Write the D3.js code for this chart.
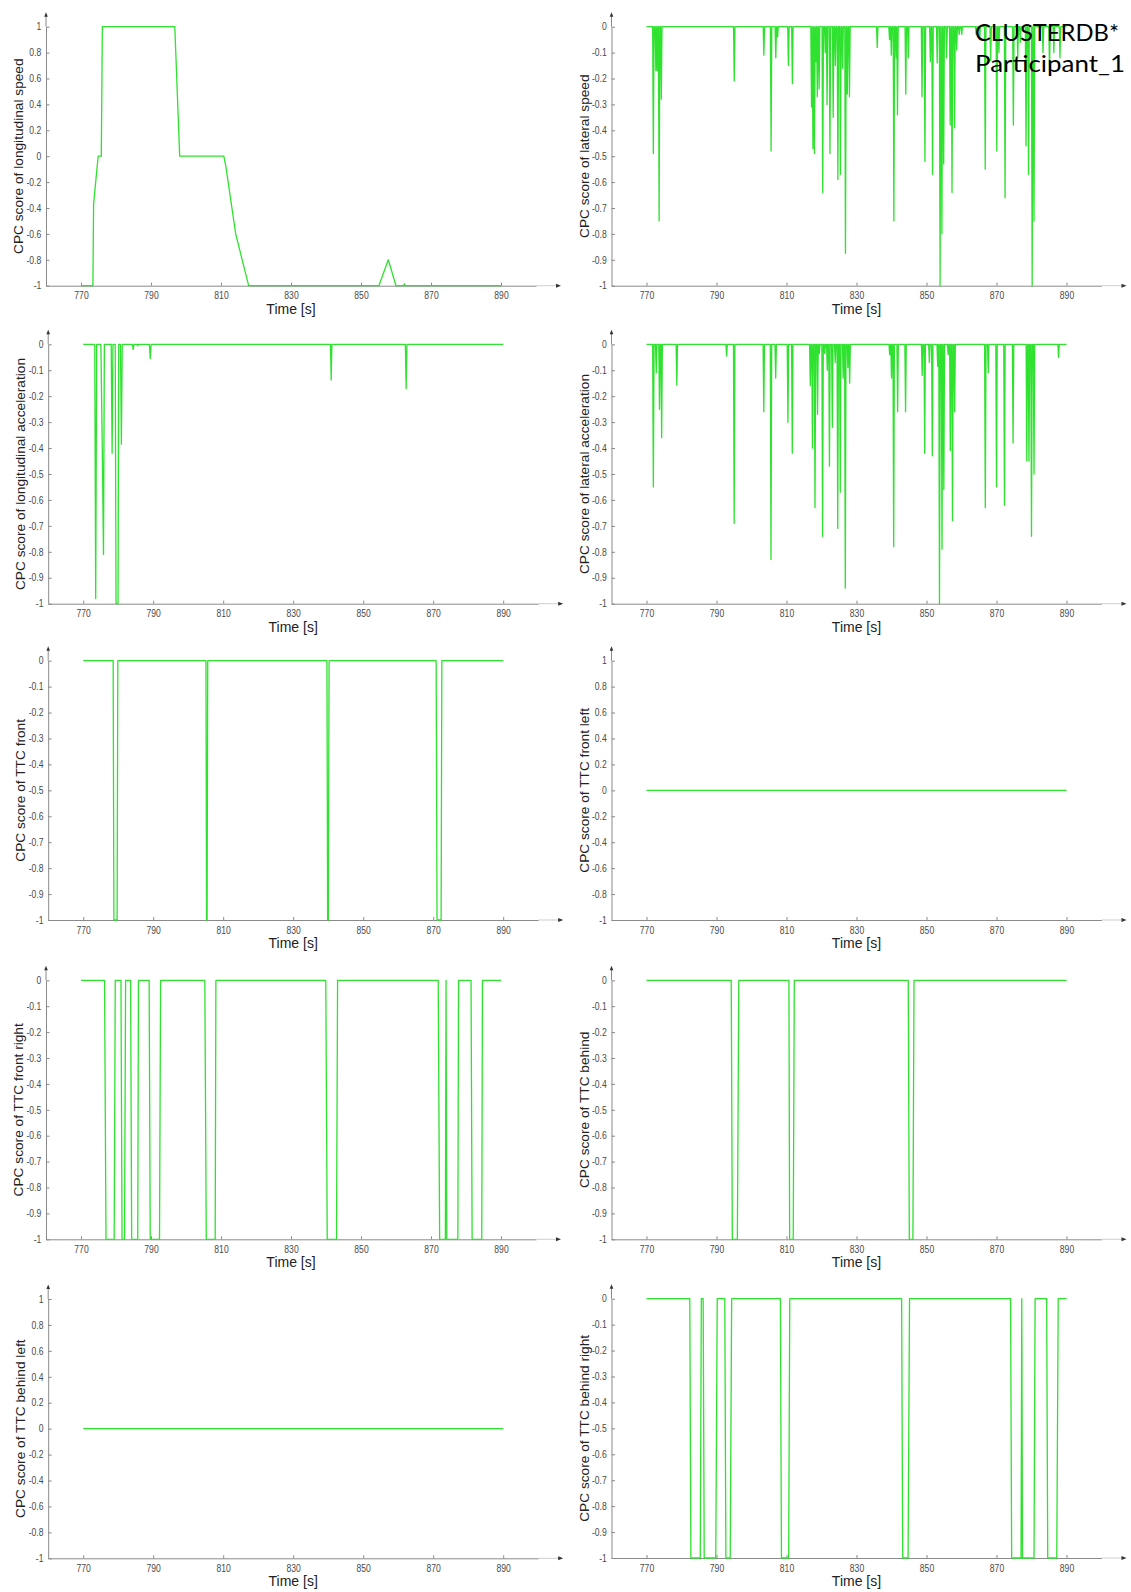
<!DOCTYPE html>
<html><head><meta charset="utf-8">
<script src="https://cdn.jsdelivr.net/npm/d3@7"></script>
<style>body{margin:0;background:#fff}svg{display:block}</style>
</head><body>
<svg id="c" width="1131" height="1592"></svg>
<script>
// ---------- tick labels ----------
const xTicks = [770, 790, 810, 830, 850, 870, 890];
const xDomain = [760, 900];
const yTicksFull = [-1, -0.8, -0.6, -0.4, -0.2, 0, 0.2, 0.4, 0.6, 0.8, 1];
const yTicksNeg = [-1, -0.9, -0.8, -0.7, -0.6, -0.5, -0.4, -0.3, -0.2, -0.1, 0];

// ---------- data ----------
const lonSpeedT = [770, 773.4, 773.6, 774.9, 775.8, 776.1, 796.8, 798.2, 810.8, 811.4, 814.2, 817.9, 855.1, 857.8, 860.0, 862.2, 862.4, 862.6, 890];
const lonSpeedV = [-1, -1, -0.37, 0, 0, 1, 1, 0, 0, -0.08, -0.6, -1, -1, -0.8, -1, -1, -0.985, -1, -1];

// lateral speed: spike times and depths (baseline 0)
const latSpeedSpikeT = [771.96, 772.68, 773.10, 773.61, 774.23, 795.07, 803.53, 805.60, 806.94, 807.45, 810.55, 811.68,
  817.15, 817.56, 817.98, 818.39, 818.80, 819.32, 820.35, 821.07, 821.59, 822.41, 823.34, 823.96, 824.68, 825.41, 826.03,
  826.85, 827.37, 827.99, 835.93, 839.44, 839.95, 840.68, 841.29, 841.71, 844.08, 844.80, 848.72, 849.55, 851.10, 851.72,
  853.06, 853.88, 854.40, 854.91, 855.74, 856.77, 857.29, 858.01, 858.63, 859.35, 860.07, 864.2, 865.2, 866.78, 868.33,
  870.08, 870.70, 872.45, 874.82, 876.07, 876.79, 878.44, 879.16, 880.19, 880.71, 883.29, 885.15, 886.38, 888.14];
const latSpeedSpikeV = [-0.49, -0.17, -0.17, -0.75, -0.28, -0.21, -0.11, -0.48, -0.12, -0.04, -0.15, -0.22,
  -0.31, -0.47, -0.49, -0.135, -0.27, -0.24, -0.64, -0.10, -0.30, -0.49, -0.35, -0.15, -0.59, -0.57, -0.16,
  -0.875, -0.26, -0.27, -0.08, -0.05, -0.11, -0.75, -0.12, -0.34, -0.26, -0.12, -0.27, -0.52, -0.135, -0.57,
  -0.14, -1, -0.80, -0.53, -0.12, -0.38, -0.64, -0.39, -0.09, -0.03, -0.03, -0.03, -0.05, -0.55, -0.13,
  -0.48, -0.10, -0.66, -0.38, -0.12, -0.06, -0.46, -0.57, -1, -0.75, -0.10, -0.17, -0.10, -0.12];

const lonAccT = [770, 773.3, 773.57, 773.85, 775.05, 775.5, 775.8, 776.05, 778.0, 778.26, 778.5, 779.15, 779.38, 779.95, 780.15, 780.65, 780.91, 781.15, 784.05, 784.27, 784.5, 785.4, 785.6, 785.8, 788.9, 789.17, 789.4, 840.65, 840.86, 841.05, 862.05, 862.27, 862.5, 890];
const lonAccV = [0, 0, -0.98, 0, 0, -0.45, -0.81, 0, 0, -0.42, 0, 0, -1, -1, 0, 0, -0.385, 0, 0, -0.02, 0, 0, -0.006, 0, 0, -0.055, 0, 0, -0.138, 0, 0, -0.17, 0, 0];

// lateral acceleration: spike times and depths (baseline 0)
const latAccSpikeT = [771.96, 772.78, 773.71, 774.33, 778.66, 792.89, 795.05, 803.51, 805.57, 806.91, 810.41, 811.65,
  816.80, 817.42, 818.14, 818.87, 819.38, 820.31, 820.93, 821.65, 822.27, 823.09, 823.92, 824.64, 825.36, 826.19,
  826.80, 827.53, 828.04, 839.48, 840.0, 840.62, 841.75, 844.02, 848.76, 849.48, 850.82, 851.65, 853.20, 853.71,
  854.43, 854.95, 856.19, 856.80, 857.42, 858.04, 866.80, 867.63, 870.0, 872.27, 874.74, 878.66, 879.28, 880.0,
  880.72, 887.73];
const latAccSpikeV = [-0.55, -0.11, -0.25, -0.36, -0.157, -0.045, -0.69, -0.26, -0.83, -0.13, -0.30, -0.42,
  -0.16, -0.40, -0.63, -0.27, -0.035, -0.74, -0.035, -0.10, -0.47, -0.32, -0.07, -0.71, -0.57, -0.13,
  -0.94, -0.09, -0.15, -0.04, -0.13, -0.78, -0.26, -0.26, -0.12, -0.42, -0.07, -0.43, -0.085, -1,
  -0.79, -0.56, -0.04, -0.41, -0.68, -0.26, -0.63, -0.11, -0.55, -0.62, -0.38, -0.45, -0.45, -0.74,
  -0.50, -0.05];

const ttcFrontT = [770, 778.56, 778.77, 779.69, 779.89, 805.07, 805.25, 805.4, 805.58, 839.64, 839.84, 840.04, 840.25, 870.84, 871.1, 872.26, 872.47, 890];
const ttcFrontV = [0, 0, -1, -1, 0, 0, -1, -1, 0, 0, -1, -1, 0, 0, -1, -1, 0, 0];

const ttcFrontLeftT = [770, 890];
const ttcFrontLeftV = [0, 0];

const ttcFrontRightT = [770, 776.73, 777.14, 779.48, 779.79, 781.42, 781.73, 782.44, 782.74, 784.17, 784.48, 786.21, 786.42, 789.47, 789.78, 792.43, 792.74, 805.38, 805.79, 808.34, 808.54, 839.94, 840.35, 843.0, 843.31, 872.06, 872.47, 874.1, 874.3, 874.5, 877.67, 877.87, 881.44, 881.75, 884.5, 884.7, 890];
const ttcFrontRightV = [0, 0, -1, -1, 0, 0, -1, -1, 0, 0, -1, -1, 0, 0, -1, -1, 0, 0, -1, -1, 0, 0, -1, -1, 0, 0, -1, -1, 0, -1, -1, 0, 0, -1, -1, 0, 0];

const ttcBehindT = [770, 794.21, 794.52, 795.96, 796.37, 810.69, 810.9, 811.92, 812.23, 844.78, 845.09, 846.12, 846.43, 890];
const ttcBehindV = [0, 0, -1, -1, 0, 0, -1, -1, 0, 0, -1, -1, 0, 0];

const ttcBehindLeftT = [770, 890];
const ttcBehindLeftV = [0, 0];

const ttcBehindRightT = [770, 782.37, 782.68, 785.36, 785.67, 786.19, 786.49, 789.79, 790.21, 792.37, 792.68, 793.92, 794.33, 808.25, 808.56, 810.62, 810.93, 842.89, 843.2, 844.74, 845.15, 874.02, 874.33, 877.01, 877.22, 877.42, 880.72, 881.03, 884.33, 884.64, 887.22, 887.63, 890];
const ttcBehindRightV = [0, 0, -1, -1, 0, 0, -1, -1, 0, 0, -1, -1, 0, 0, -1, -1, 0, 0, -1, -1, 0, 0, -1, -1, 0, -1, -1, 0, 0, -1, -1, 0, 0];

const yLabels = [
  "CPC score of longitudinal speed", "CPC score of lateral speed",
  "CPC score of longitudinal acceleration", "CPC score of lateral acceleration",
  "CPC score of TTC front", "CPC score of TTC front left",
  "CPC score of TTC front right", "CPC score of TTC behind",
  "CPC score of TTC behind left", "CPC score of TTC behind right"
];
const xLabel = "Time [s]";
const noteLines = ["CLUSTERDB*", "Participant_1"];

// ---------- helpers ----------
function zip(T, V) { return T.map((t, i) => [t, V[i]]); }
function spikeSeries(T, V, hw) {
  const pts = [[770, 0]];
  T.forEach((t, i) => { pts.push([t - hw, 0], [t, V[i]], [t + hw, 0]); });
  pts.push([890, 0]);
  return pts;
}

const series = [
  zip(lonSpeedT, lonSpeedV),
  spikeSeries(latSpeedSpikeT, latSpeedSpikeV, 0.2),
  zip(lonAccT, lonAccV),
  spikeSeries(latAccSpikeT, latAccSpikeV, 0.2),
  zip(ttcFrontT, ttcFrontV),
  zip(ttcFrontLeftT, ttcFrontLeftV),
  zip(ttcFrontRightT, ttcFrontRightV),
  zip(ttcBehindT, ttcBehindV),
  zip(ttcBehindLeftT, ttcBehindLeftV),
  zip(ttcBehindRightT, ttcBehindRightV)
];
const tickSets = [yTicksFull, yTicksNeg, yTicksNeg, yTicksNeg, yTicksNeg, yTicksFull, yTicksNeg, yTicksNeg, yTicksFull, yTicksNeg];

// layout (pixels)
const layout = [
  {x0: 46, top: 26.7, bottom: 285.7}, {x0: 611.5, top: 26.7, bottom: 285.7},
  {x0: 48.2, top: 344.3, bottom: 603.7}, {x0: 611.5, top: 344.3, bottom: 603.7},
  {x0: 48.2, top: 660.7, bottom: 920}, {x0: 611.5, top: 660.7, bottom: 920},
  {x0: 46, top: 980.3, bottom: 1239.3}, {x0: 611.5, top: 980.3, bottom: 1239.3},
  {x0: 48.2, top: 1299, bottom: 1558.3}, {x0: 611.5, top: 1298.7, bottom: 1558}
];
const W = 490;
const axisCol = "#8a8a8a", tickTextCol = "#4a4a4a", labelCol = "#222", lineCol = "#2fe22f";
const tickFont = "'Liberation Sans', Arial, sans-serif";
const labelFont = "'Liberation Sans', Arial, sans-serif";
const fmt = d => d === 0 ? "0" : String(+d.toFixed(1));

const svg = d3.select("#c");
svg.append("rect").attr("width", 1131).attr("height", 1592).attr("fill", "#fff");

series.forEach((data, i) => {
  const L = layout[i];
  const ticks = tickSets[i];
  const x = d3.scaleLinear().domain(xDomain).range([L.x0, L.x0 + W]);
  const y = d3.scaleLinear().domain([d3.min(ticks), d3.max(ticks)]).range([L.bottom, L.top]);
  const g = svg.append("g");

  // x axis
  const xa = g.append("g").attr("transform", `translate(0,${L.bottom})`)
    .call(d3.axisBottom(x).tickValues(xTicks).tickSizeInner(-3).tickSizeOuter(0).tickPadding(6.5).tickFormat(d3.format("d")));
  xa.select(".domain").attr("stroke", axisCol);
  xa.selectAll(".tick line").attr("stroke", axisCol);
  xa.selectAll("text").attr("fill", tickTextCol).attr("font-family", tickFont).attr("font-size", 10)
    .attr("transform", "scale(0.86,1)");
  const xe = x(xDomain[1]);
  g.append("line").attr("x1", xe).attr("x2", xe + 21).attr("y1", L.bottom).attr("y2", L.bottom)
    .attr("stroke", "#cfcfcf").attr("stroke-width", 1);
  g.append("path").attr("d", `M${xe + 25},${L.bottom} L${xe + 20},${L.bottom - 2} L${xe + 20},${L.bottom + 2} Z`).attr("fill", "#333");

  // y axis
  const ya = g.append("g").attr("transform", `translate(${L.x0},0)`)
    .call(d3.axisLeft(y).tickValues(ticks).tickSizeInner(-3.5).tickSizeOuter(0).tickPadding(5.5).tickFormat(fmt));
  ya.select(".domain").attr("stroke", axisCol);
  ya.selectAll(".tick line").attr("stroke", axisCol);
  ya.selectAll("text").attr("fill", tickTextCol).attr("font-family", tickFont).attr("font-size", 10)
    .attr("transform", "scale(0.86,1)");
  g.append("line").attr("x1", L.x0).attr("x2", L.x0).attr("y1", L.top).attr("y2", L.top - 11)
    .attr("stroke", axisCol).attr("stroke-width", 1);
  g.append("path").attr("d", `M${L.x0},${L.top - 14.5} L${L.x0 - 1.8},${L.top - 10} L${L.x0 + 1.8},${L.top - 10} Z`).attr("fill", "#333");

  // labels
  g.append("text").attr("x", (x(xDomain[0]) + xe) / 2).attr("y", L.bottom + 28)
    .attr("text-anchor", "middle").attr("font-family", labelFont)
    .attr("font-size", 14).attr("fill", labelCol).text(xLabel);
  g.append("text").attr("transform", `translate(${L.x0 - 23},${(L.top + L.bottom) / 2}) rotate(-90)`)
    .attr("text-anchor", "middle").attr("font-family", labelFont)
    .attr("font-size", 13.7).attr("fill", labelCol).text(yLabels[i]);

  // data line
  g.append("path").datum(data)
    .attr("d", d3.line().x(d => x(d[0])).y(d => y(d[1])))
    .attr("fill", "none").attr("stroke", lineCol).attr("stroke-width", 1.3)
    .attr("stroke-linejoin", "round");
});

// note text
const note = svg.append("g");
note.append("text").attr("x", 975).attr("y", 40.5).attr("font-family", "Lato, 'Noto Sans', sans-serif")
  .attr("font-size", 24).attr("fill", "#000").attr("textLength", 144).attr("lengthAdjust", "spacingAndGlyphs").text(noteLines[0]);
note.append("text").attr("x", 975).attr("y", 71.5).attr("font-family", "Lato, 'Noto Sans', sans-serif")
  .attr("font-size", 24).attr("fill", "#000").attr("textLength", 150).attr("lengthAdjust", "spacingAndGlyphs").text(noteLines[1]);
</script>
</body></html>
